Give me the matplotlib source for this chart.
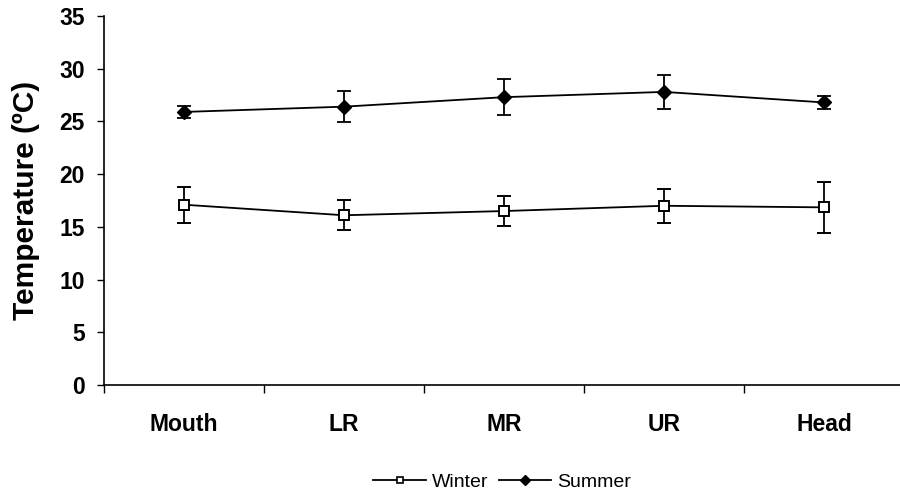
import matplotlib
matplotlib.use("Agg")
from matplotlib import pyplot as plt
from matplotlib.lines import Line2D
from matplotlib.ticker import FixedLocator, NullFormatter

sites = ["Mouth", "LR", "MR", "UR", "Head"]
winter = [17.1, 16.1, 16.5, 17.0, 16.85]
winter_err = [1.7, 1.4, 1.4, 1.6, 2.45]
summer = [25.9, 26.4, 27.3, 27.8, 26.8]
summer_err = [0.6, 1.5, 1.7, 1.6, 0.65]


def main():
    plt.rcParams['font.family'] = ['Liberation Sans', 'DejaVu Sans']

    fig = plt.figure(figsize=(9, 4.95), dpi=100)
    ax = fig.add_axes([0.1156, 0.2222, 0.8889, 0.7455])

    x = list(range(len(sites)))
    ax.errorbar(x, winter, yerr=winter_err, color='black', lw=1.3,
                marker='s', ms=6.5, mfc='white', mec='black', mew=1.4,
                capsize=5, capthick=1.3, elinewidth=1.3)
    ax.errorbar(x, summer, yerr=summer_err, color='black', lw=1.3,
                marker='D', ms=7, mfc='black', mec='black',
                capsize=5, capthick=1.3, elinewidth=1.3)

    ax.set_xlim(-0.5, len(sites) - 0.5)
    ax.set_ylim(0, 35)
    ax.set_yticks(range(0, 36, 5))
    ax.set_yticklabels([str(v) for v in range(0, 36, 5)],
                       fontsize=16.5, fontweight='bold')

    ax.set_xticks(x)
    ax.set_xticklabels(sites, fontsize=16.5, fontweight='bold')
    ax.tick_params(axis='x', which='major', length=0, pad=20)
    ax.xaxis.set_minor_locator(FixedLocator([i - 0.5 for i in range(len(sites) + 1)]))
    ax.xaxis.set_minor_formatter(NullFormatter())
    ax.tick_params(axis='x', which='minor', length=6, width=1, direction='out')
    ax.tick_params(axis='y', length=5, width=1, direction='out', pad=9)

    ax.set_ylabel('Temperature (ºC)', fontsize=21.5, fontweight='bold', labelpad=14)

    for side in ('top', 'right'):
        ax.spines[side].set_visible(False)
    for side in ('left', 'bottom'):
        ax.spines[side].set_linewidth(1.2)

    # legend keys drawn a bit smaller than the plotted markers
    handles = [
        Line2D([], [], color='black', lw=1.3, marker='s', ms=5,
               mfc='white', mec='black', mew=1.2),
        Line2D([], [], color='black', lw=1.3, marker='D', ms=5.5,
               mfc='black', mec='black'),
    ]
    fig.legend(handles, ['Winter', 'Summer'], loc='center',
               bbox_to_anchor=(0.558, 0.026), ncol=2, frameon=False,
               fontsize=14, handlelength=2.7, handletextpad=0.3,
               columnspacing=0.55)

    fig.savefig('out.png', dpi=100)


if __name__ == "__main__":
    main()
